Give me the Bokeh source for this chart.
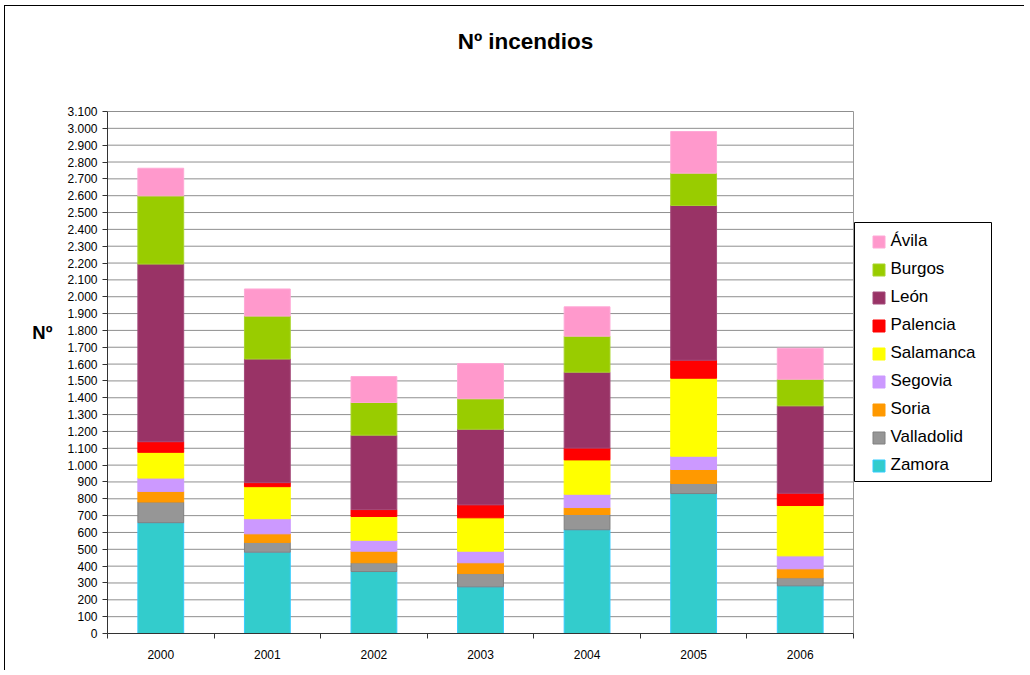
from bokeh.plotting import figure
from bokeh.models import (ColumnDataSource, FixedTicker, CustomJSTickFormatter,
                          Legend, LegendItem, Label, BoxAnnotation, Range1d)
from bokeh.embed import file_html
from bokeh.resources import INLINE

# ---------------- data ----------------
years = ["2000", "2001", "2002", "2003", "2004", "2005", "2006"]
provinces = ["Zamora", "Valladolid", "Soria", "Segovia", "Salamanca",
             "Palencia", "León", "Burgos", "Ávila"]
zamora = [658, 483, 368, 277, 616, 831, 283]
valladolid = [123, 58, 52, 79, 91, 60, 48]
soria = [63, 51, 69, 64, 41, 83, 53]
segovia = [79, 90, 65, 69, 79, 79, 77]
salamanca = [153, 190, 141, 198, 204, 463, 299]
palencia = [63, 24, 41, 77, 70, 107, 73]
leon = [1055, 734, 442, 449, 451, 919, 519]
burgos = [405, 255, 194, 181, 214, 192, 158]
avila = [164, 161, 154, 209, 174, 247, 184]
y_max = 3100
y_ticks = list(range(0, y_max + 1, 100))

fill_colors = ["#33CCCC", "#969696", "#FF9900", "#CC99FF", "#FFFF00",
               "#FF0000", "#993366", "#99CC00", "#FF99CC"]
line_colors = ["#33CCFF", "#808080", "#FF9900", "#CC99FF", "#FFFF00",
               "#FF0000", "#A34A7A", "#A8D42A", "#FFA8D6"]

FONT = "Liberation Sans"

# ---------------- layout constants (pixels) ----------------
W, H = 1020, 665
ML, MB = 102, 38            # left / bottom borders of the canvas
FRAME_W, FRAME_H = W - ML, H - MB
PLOT_W, PLOT_H = 746, 522   # size of the visible plot area inside the frame

n = len(years)
x_start = -0.5
x_end = x_start + n * FRAME_W / PLOT_W
y_end = y_max * FRAME_H / PLOT_H

keys = ["s%d" % i for i in range(len(provinces))]
series = [zamora, valladolid, soria, segovia, salamanca, palencia, leon, burgos, avila]
xs = list(range(n))
data = {"x": xs}
for k, s in zip(keys, series):
    data[k] = s
src = ColumnDataSource(data)

p = figure(width=W, height=H, output_backend="svg", toolbar_location=None,
           title_location=None,
           x_range=Range1d(x_start, x_end), y_range=Range1d(0, y_end),
           min_border_left=ML, min_border_right=0, min_border_top=0,
           min_border_bottom=MB)
p.background_fill_color = "white"
p.border_fill_color = "white"
p.outline_line_color = None
p.styles = {"margin-left": "4px", "margin-top": "5px",
            "border-left": "1px solid #000000", "border-top": "1px solid #000000"}

# grid lines limited to the plot area
x_lo, x_hi = -0.5, n - 0.5
p.segment(x0=[x_lo] * len(y_ticks), x1=[x_hi] * len(y_ticks), y0=y_ticks, y1=y_ticks,
          line_color="#8f8f8f", line_width=1, level="underlay")
p.segment(x0=[x_hi], x1=[x_hi], y0=[0], y1=[y_max],
          line_color="#999999", line_width=1, level="underlay")

renderers = p.vbar_stack(keys, x="x", width=0.43, source=src,
                         fill_color=fill_colors, line_color=line_colors,
                         line_width=1)

# ---------------- axes ----------------
xax = p.xaxis[0]
xax.bounds = (x_lo, x_hi)
xax.ticker = FixedTicker(ticks=xs, minor_ticks=[i - 0.5 for i in range(n + 1)])
xax.formatter = CustomJSTickFormatter(args=dict(labels=years),
                                      code="var i = Math.round(tick); return (i >= 0 && i < labels.length) ? labels[i] : '';")
xax.major_tick_out = 0
xax.major_tick_in = 0
xax.minor_tick_out = 5
xax.minor_tick_in = 0
xax.minor_tick_line_color = "#333333"
xax.axis_line_color = "#333333"
xax.major_label_text_font = FONT
xax.major_label_text_font_size = "12px"
xax.major_label_text_color = "#000000"
xax.major_label_standoff = 11

yax = p.yaxis[0]
yax.bounds = (0, y_max)
yax.ticker = FixedTicker(ticks=y_ticks, minor_ticks=[])
yax.formatter = CustomJSTickFormatter(
    code="var s = Math.round(tick).toString(); return s.replace(/\\B(?=(\\d{3})+(?!\\d))/g, '.');")
yax.major_tick_out = 5
yax.major_tick_in = 0
yax.minor_tick_out = 0
yax.minor_tick_in = 0
yax.major_tick_line_color = "#333333"
yax.axis_line_color = "#333333"
yax.major_label_text_font = FONT
yax.major_label_text_font_size = "12px"
yax.major_label_text_color = "#000000"
yax.major_label_standoff = 5
yax.axis_label = "\nNº"
yax.axis_label_orientation = "horizontal"
yax.axis_label_standoff = 12
yax.axis_label_text_font = FONT
yax.axis_label_text_font_size = "18.5px"
yax.axis_label_text_font_style = "bold"
yax.axis_label_text_color = "#000000"

p.xgrid.visible = False
p.ygrid.visible = False

# ---------------- title ----------------
p.add_layout(Label(x=418, y=592, x_units="screen", y_units="screen",
                   text="Nº incendios", text_align="center", text_baseline="alphabetic",
                   text_font=FONT, text_font_size="22.5px", text_font_style="bold",
                   text_color="#000000"))

# ---------------- legend ----------------
p.add_layout(BoxAnnotation(left=747, right=884, bottom=152, top=411,
                           left_units="screen", right_units="screen",
                           bottom_units="screen", top_units="screen",
                           fill_color="white", fill_alpha=1.0,
                           line_color="#000000", line_width=1, line_alpha=1.0,
                           level="annotation"))

items = [LegendItem(label=name, renderers=[r])
         for name, r in zip(provinces, renderers)][::-1]
legend = Legend(items=items, location=(763.5, 158), orientation="vertical",
                padding=0, margin=0, spacing=8,
                glyph_width=15, glyph_height=15, label_height=20,
                label_standoff=5,
                label_text_font=FONT, label_text_font_size="17px",
                label_text_color="#000000",
                border_line_color=None, background_fill_alpha=0.0)
p.add_layout(legend)

open("out.html", "w").write(file_html(p, INLINE))
